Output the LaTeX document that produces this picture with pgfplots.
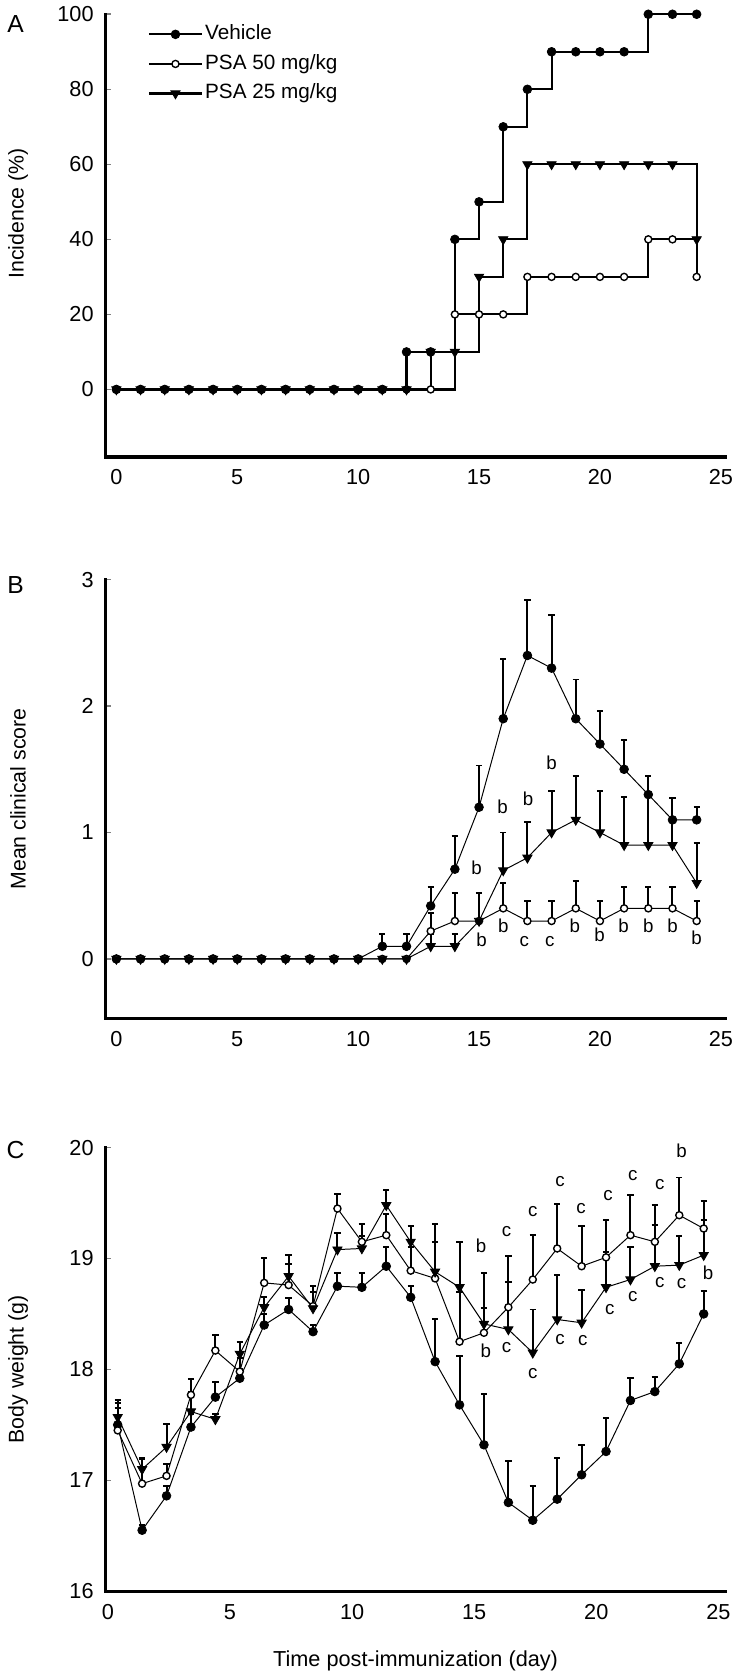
\documentclass[border=0pt]{standalone}
\usepackage{fontspec}
\setmainfont{Liberation Sans}
\usepackage{pgfplots}
\usepackage{pgfplotstable}
\pgfplotsset{compat=1.18}

% Panel A: incidence (%)
\pgfplotstableread{
x veh p50 p25
0 0 0 0
1 0 0 0
2 0 0 0
3 0 0 0
4 0 0 0
5 0 0 0
6 0 0 0
7 0 0 0
8 0 0 0
9 0 0 0
10 0 0 0
11 0 0 0
12 10 0 0
13 10 0 10
14 40 20 10
15 50 20 30
16 70 20 40
17 80 30 60
18 90 30 60
19 90 30 60
20 90 30 60
21 90 30 60
22 100 40 60
23 100 40 60
24 100 30 40
}\dataA

% Panel B: mean clinical score (value, top of error bar)
\pgfplotstableread{
x veh vehT p50 p50T p25 p25T
0 0 0 0 0 0 0
1 0 0 0 0 0 0
2 0 0 0 0 0 0
3 0 0 0 0 0 0
4 0 0 0 0 0 0
5 0 0 0 0 0 0
6 0 0 0 0 0 0
7 0 0 0 0 0 0
8 0 0 0 0 0 0
9 0 0 0 0 0 0
10 0 0 0 0 0 0
11 0.1 0.2 0 0 0 0
12 0.1 0.2 0 0 0 0
13 0.42 0.57 0.22 0.36 0.1 0.2
14 0.71 0.97 0.3 0.52 0.1 0.2
15 1.2 1.53 0.3 0.52 0.3 0.52
16 1.9 2.37 0.4 0.6 0.7 1.0
17 2.4 2.84 0.3 0.46 0.8 1.08
18 2.3 2.72 0.3 0.46 1.0 1.33
19 1.9 2.21 0.4 0.62 1.1 1.45
20 1.7 1.96 0.3 0.46 1.0 1.33
21 1.5 1.73 0.4 0.57 0.9 1.28
22 1.3 1.45 0.4 0.57 0.9 1.3
23 1.1 1.27 0.4 0.57 0.9 1.1
24 1.1 1.2 0.3 0.46 0.6 0.92
}\dataB

% Panel C: body weight (g) (value, top of error bar)
\pgfplotstableread{
x veh vehT p50 p50T p25 p25T
0.4 17.50 17.70 17.45 17.65 17.57 17.72
1.4 16.55 16.60 16.97 17.19 17.10 17.20
2.4 16.86 16.95 17.04 17.15 17.30 17.51
3.4 17.48 17.60 17.77 17.91 17.62 17.80
4.4 17.75 17.89 18.17 18.31 17.55 17.60
5.4 17.92 18.00 17.98 18.10 18.14 18.25
6.4 18.40 18.50 18.78 19.00 18.56 18.65
7.4 18.54 18.64 18.76 18.95 18.84 19.03
8.4 18.34 18.40 18.57 18.70 18.55 18.75
9.4 18.75 18.87 19.45 19.58 19.08 19.23
10.4 18.74 18.87 19.15 19.31 19.09 19.20
11.4 18.93 19.10 19.21 19.40 19.48 19.62
12.4 18.65 18.75 18.89 19.10 19.15 19.29
13.4 18.07 18.45 18.82 19.15 18.88 19.31
14.4 17.68 18.12 18.25 18.70 18.74 19.15
15.4 17.32 17.78 18.33 18.55 18.41 18.87
16.4 16.80 17.17 18.56 19.02 18.36 18.79
17.4 16.64 16.95 18.81 19.21 18.15 18.54
18.4 16.83 17.20 19.09 19.49 18.45 18.85
19.4 17.05 17.32 18.93 19.29 18.42 18.72
20.4 17.26 17.56 19.01 19.35 18.74 19.06
21.4 17.72 17.92 19.21 19.57 18.81 19.10
22.4 17.80 17.93 19.15 19.48 18.93 19.30
23.4 18.05 18.24 19.39 19.73 18.94 19.20
24.4 18.50 18.71 19.27 19.52 19.03 19.35
}\dataC

\pgfplotsset{
  panel/.style={
    scale only axis, width=314.5pt, anchor=north west,
    axis lines=left, axis line style={-, line width=1.6pt, line cap=rect},
    tick align=inside, major tick length=3pt,
    xtick style={draw=none}, ytick style={line width=0.8pt},
    xtick={0,5,...,25},
    /pgf/number format/assume math mode=true,
    tick label style={font=\fontsize{11}{12}\selectfont},
    yticklabel style={xshift=-2.5pt},
    xticklabel style={yshift=-3pt},
    label style={font=\fontsize{10.8}{12}\selectfont},
    ylabel style={at={(axis description cs:-0.141,0.5)}, anchor=center},
    clip=false,
  },
  veh/.style={black, mark=*, mark size=2.2pt, mark options={solid, fill=black, line width=0.4pt}},
  p50/.style={black, mark=*, mark size=1.8pt, mark options={solid, fill=white, line width=0.7pt}},
  p25/.style={black, mark=triangle*, mark size=2.7pt, mark options={solid, fill=black, rotate=180, line width=0.4pt}},
  eb/.style={error bars/.cd, y dir=plus, y explicit,
     error bar style={line width=1pt},
     error mark options={rotate=90, mark size=1.6pt, line width=1pt}},
}
\tikzset{lettr/.style={font=\fontsize{9.5}{10}\selectfont, anchor=center, inner sep=0pt}}

\begin{document}
\begin{tikzpicture}
\path (0,0) rectangle (370pt,-839pt);

\node[font=\fontsize{12.5}{13}\selectfont] at (5.2pt,-6.8pt) {A};
\node[font=\fontsize{12.5}{13}\selectfont] at (5.2pt,-291pt) {B};
\node[font=\fontsize{12.5}{13}\selectfont] at (5.2pt,-578pt) {C};

% ---------- Panel A ----------
\begin{axis}[panel, at={(50.85pt,-1.8pt)}, height=224.5pt,
  xmin=-0.45, xmax=25.2, ymin=-18, ymax=100,
  ytick={0,20,...,100},
  ylabel={Incidence (\%)},
  ylabel style={at={(axis description cs:-0.141,0.55)}},
  legend style={draw=none, fill=none, at={(0.058,0.99)}, anchor=north west,
    font=\fontsize{10.5}{12}\selectfont, row sep=3.5pt,
    nodes={inner sep=1pt, text height=7.5pt, text depth=2pt}},
  legend cell align=left,
  legend image code/.code={\draw[#1, mark repeat=2, mark phase=2] plot coordinates {(0pt,0pt) (13.5pt,0pt) (27pt,0pt)};},
  /tikz/every even column/.append style={column sep=6pt},
]
\addplot[veh, const plot, line width=1.1pt] table[x=x, y=veh] {\dataA};
\addplot[p50, const plot, line width=1.1pt] table[x=x, y=p50] {\dataA};
\addplot[p25, const plot, line width=1.1pt] table[x=x, y=p25] {\dataA};
\legend{Vehicle, PSA 50 mg/kg, PSA 25 mg/kg}
\end{axis}

% ---------- Panel B ----------
\begin{axis}[panel, at={(50.85pt,-288.5pt)}, height=222.5pt,
  xmin=-0.45, xmax=25.2, ymin=-0.47, ymax=3,
  ytick={0,1,2,3},
  ylabel={Mean clinical score},
]
\addplot[veh, line width=0.5pt, eb] table[x=x, y=veh, y error expr=\thisrow{vehT}-\thisrow{veh}] {\dataB};
\addplot[p50, line width=0.5pt, eb] table[x=x, y=p50, y error expr=\thisrow{p50T}-\thisrow{p50}] {\dataB};
\addplot[p25, line width=0.5pt, eb] table[x=x, y=p25, y error expr=\thisrow{p25T}-\thisrow{p25}] {\dataB};
\node[lettr] at (axis cs:14.9,0.72) {b};
\node[lettr] at (axis cs:15.97,1.2) {b};
\node[lettr] at (axis cs:17.03,1.27) {b};
\node[lettr] at (axis cs:18.0,1.55) {b};
\node[lettr] at (axis cs:15.1,0.155) {b};
\node[lettr] at (axis cs:16.0,0.26) {b};
\node[lettr] at (axis cs:16.87,0.14) {c};
\node[lettr] at (axis cs:17.93,0.14) {c};
\node[lettr] at (axis cs:18.96,0.26) {b};
\node[lettr] at (axis cs:19.98,0.19) {b};
\node[lettr] at (axis cs:20.98,0.26) {b};
\node[lettr] at (axis cs:22.0,0.26) {b};
\node[lettr] at (axis cs:23.0,0.26) {b};
\node[lettr] at (axis cs:24.0,0.17) {b};
\end{axis}

% ---------- Panel C ----------
\begin{axis}[panel, at={(50.85pt,-576.5pt)}, height=225pt,
  xmin=-0.1, xmax=25.3, ymin=16, ymax=20,
  ytick={16,17,...,20},
  ylabel={Body weight (g)},
  xlabel={Time post-immunization (day)},
  xlabel style={at={(axis description cs:0.5,-0.158)}, anchor=center, font=\fontsize{11}{12}\selectfont},
]
\addplot[veh, line width=0.5pt, eb] table[x=x, y=veh, y error expr=\thisrow{vehT}-\thisrow{veh}] {\dataC};
\addplot[p50, line width=0.5pt, eb] table[x=x, y=p50, y error expr=\thisrow{p50T}-\thisrow{p50}] {\dataC};
\addplot[p25, line width=0.5pt, eb] table[x=x, y=p25, y error expr=\thisrow{p25T}-\thisrow{p25}] {\dataC};
\node[lettr] at (axis cs:15.28,19.11) {b};
\node[lettr] at (axis cs:15.48,18.17) {b};
\node[lettr] at (axis cs:16.33,19.24) {c};
\node[lettr] at (axis cs:16.33,18.20) {c};
\node[lettr] at (axis cs:17.40,19.42) {c};
\node[lettr] at (axis cs:17.40,17.96) {c};
\node[lettr] at (axis cs:18.52,19.69) {c};
\node[lettr] at (axis cs:18.52,18.27) {c};
\node[lettr] at (axis cs:19.38,19.45) {c};
\node[lettr] at (axis cs:19.45,18.26) {c};
\node[lettr] at (axis cs:20.48,19.57) {c};
\node[lettr] at (axis cs:20.55,18.54) {c};
\node[lettr] at (axis cs:21.50,19.75) {c};
\node[lettr] at (axis cs:21.50,18.66) {c};
\node[lettr] at (axis cs:22.60,19.67) {c};
\node[lettr] at (axis cs:22.60,18.78) {c};
\node[lettr] at (axis cs:23.49,19.97) {b};
\node[lettr] at (axis cs:23.49,18.77) {c};
\node[lettr] at (axis cs:24.58,18.87) {b};
\end{axis}
\end{tikzpicture}
\end{document}
